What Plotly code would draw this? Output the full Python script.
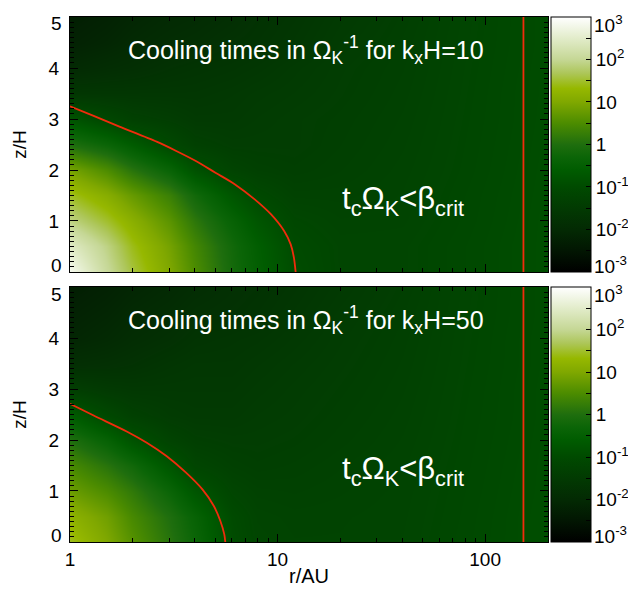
import plotly.graph_objects as go

# ---- data (log10 of cooling time in units of 1/Omega_K) ----
r_grid = [1, 1.5, 2, 3, 4, 6, 8, 12, 20, 40, 80, 150, 200]
z_grid = [0, 0.5, 1, 1.5, 2, 2.5, 3, 3.5, 4, 4.5, 5]

# rows: z_grid, cols: r_grid   (kxH = 10)
logtc_k10 = [
    [2.85, 2.05, 1.58, 1.00, 0.50, -0.15, -0.50, -0.95, -1.15, -1.15, -1.05, -0.95, -0.90],
    [2.45, 1.90, 1.42, 0.90, 0.40, -0.20, -0.55, -1.00, -1.15, -1.15, -1.05, -0.95, -0.90],
    [1.90, 1.50, 1.15, 0.65, 0.15, -0.40, -0.75, -1.10, -1.20, -1.18, -1.07, -0.96, -0.90],
    [1.45, 1.10, 0.75, 0.30, -0.20, -0.75, -1.05, -1.25, -1.25, -1.20, -1.08, -0.97, -0.91],
    [0.90, 0.50, 0.10, -0.35, -0.85, -1.20, -1.30, -1.35, -1.30, -1.22, -1.10, -0.98, -0.92],
    [0.00, -0.30, -0.60, -1.05, -1.30, -1.40, -1.40, -1.40, -1.33, -1.24, -1.11, -0.99, -0.93],
    [-0.80, -1.10, -1.30, -1.40, -1.50, -1.50, -1.45, -1.40, -1.35, -1.26, -1.12, -1.00, -0.94],
    [-1.60, -1.60, -1.60, -1.60, -1.60, -1.55, -1.50, -1.45, -1.38, -1.28, -1.13, -1.00, -0.95],
    [-2.00, -1.90, -1.85, -1.75, -1.70, -1.65, -1.60, -1.50, -1.40, -1.30, -1.14, -1.01, -0.95],
    [-2.20, -2.10, -2.00, -1.90, -1.85, -1.75, -1.70, -1.60, -1.45, -1.32, -1.15, -1.02, -0.96],
    [-2.30, -2.20, -2.10, -2.00, -1.95, -1.85, -1.75, -1.65, -1.50, -1.35, -1.16, -1.02, -0.96],
]

# rows: z_grid, cols: r_grid   (kxH = 50)
logtc_k50 = [
    [1.45, 1.00, 0.60, 0.10, -0.30, -0.95, -1.15, -1.20, -1.20, -1.17, -1.06, -0.96, -0.91],
    [1.20, 0.85, 0.45, 0.00, -0.40, -1.00, -1.18, -1.22, -1.21, -1.18, -1.07, -0.96, -0.91],
    [0.80, 0.50, 0.20, -0.30, -0.75, -1.15, -1.25, -1.27, -1.24, -1.19, -1.08, -0.97, -0.92],
    [0.45, 0.10, -0.20, -0.75, -1.15, -1.30, -1.35, -1.32, -1.27, -1.21, -1.09, -0.98, -0.92],
    [0.00, -0.40, -0.80, -1.20, -1.35, -1.40, -1.40, -1.37, -1.31, -1.23, -1.10, -0.99, -0.93],
    [-0.60, -1.05, -1.30, -1.45, -1.50, -1.50, -1.45, -1.41, -1.34, -1.25, -1.11, -1.00, -0.94],
    [-1.35, -1.50, -1.55, -1.55, -1.55, -1.55, -1.50, -1.44, -1.37, -1.27, -1.12, -1.00, -0.94],
    [-1.85, -1.80, -1.75, -1.65, -1.60, -1.60, -1.55, -1.48, -1.40, -1.29, -1.13, -1.01, -0.95],
    [-2.10, -2.00, -1.90, -1.80, -1.70, -1.65, -1.62, -1.54, -1.43, -1.31, -1.14, -1.01, -0.95],
    [-2.20, -2.10, -2.00, -1.90, -1.80, -1.75, -1.70, -1.60, -1.47, -1.33, -1.15, -1.02, -0.96],
    [-2.30, -2.20, -2.10, -2.00, -1.90, -1.80, -1.75, -1.65, -1.52, -1.36, -1.16, -1.02, -0.96],
]

# red contour t_c*Omega_K = beta_crit
contour10_r = [1.0, 1.3, 1.73, 2.614, 3.25, 4.04, 5.02, 6.24, 7.76, 9.31, 10.76, 11.57, 11.99, 12.22]
contour10_z = [3.25, 3.06, 2.85, 2.555, 2.373, 2.176, 1.947, 1.718, 1.424, 1.129, 0.804, 0.541, 0.28, 0.0]
contour50_r = [1.0, 1.3, 1.886, 2.344, 2.915, 3.623, 4.345, 4.931, 5.302, 5.538, 5.60]
contour50_z = [2.71, 2.48, 2.163, 1.947, 1.686, 1.359, 1.031, 0.706, 0.412, 0.149, 0.0]
r_outer = 153

cb_tickvals = [-3, -2, -1, 0, 1, 2, 3]
cb_ticktext = ["10<sup>-3</sup>", "10<sup>-2</sup>", "10<sup>-1</sup>", "1", "10", "10<sup>2</sup>", "10<sup>3</sup>"]
y_tickvals = [0, 1, 2, 3, 4, 5]
y_ticktext = ["0", "1", "2", "3", "4", "5"]
kx_values = ["10", "50"]

colorscale = [
    [0.000, "#000000"],
    [0.083, "#021602"],
    [0.167, "#032a03"],
    [0.250, "#023a02"],
    [0.333, "#004a00"],
    [0.400, "#005c00"],
    [0.450, "#0b6507"],
    [0.500, "#1f6e0e"],
    [0.583, "#4c8c00"],
    [0.667, "#80a800"],
    [0.720, "#96b800"],
    [0.780, "#adc65a"],
    [0.833, "#c5d795"],
    [0.917, "#e2ecca"],
    [1.000, "#ffffff"],
]

FONT = "Liberation Sans, Arial, Helvetica, sans-serif"
RED = "#f02c0c"
TICKSIZE = 19

fig = go.Figure()

top_dom = [0.5143, 1.0]
bot_dom = [0.0, 0.4857]

panels = [
    (logtc_k10, contour10_r, contour10_z, "x", "y", top_dom),
    (logtc_k50, contour50_r, contour50_z, "x2", "y2", bot_dom),
]

# colorbar ticks every half decade; end labels placed separately (shifted inward)
cb_all_vals = [v / 2 for v in range(-6, 7)]
cb_all_text = []
for v in cb_all_vals:
    if v in cb_tickvals and abs(v) < 3:
        cb_all_text.append(cb_ticktext[cb_tickvals.index(v)])
    else:
        cb_all_text.append("")

for data, cr, cz, xa, ya, dom in panels:
    fig.add_trace(go.Heatmap(
        x=r_grid, y=z_grid, z=data, xaxis=xa, yaxis=ya,
        zmin=-3, zmax=3, colorscale=colorscale, zsmooth="best",
        hoverinfo="skip",
        colorbar=dict(
            x=1.006, xanchor="left", xpad=0, thickness=40, thicknessmode="pixels",
            y=dom[0], yanchor="bottom", len=dom[1] - dom[0], lenmode="fraction", ypad=0,
            outlinecolor="black", outlinewidth=1,
            tickmode="array", tickvals=cb_all_vals, ticktext=cb_all_text,
            ticks="inside", ticklen=5, tickcolor="black", tickwidth=1,
            tickfont=dict(family=FONT, size=TICKSIZE, color="black"),
        ),
    ))
    fig.add_trace(go.Scatter(
        x=cr, y=cz, xaxis=xa, yaxis=ya, mode="lines",
        line=dict(color=RED, width=1.8, shape="spline", smoothing=0.8), hoverinfo="skip", showlegend=False,
    ))
    fig.add_trace(go.Scatter(
        x=[r_outer, r_outer], y=[0, 5], xaxis=xa, yaxis=ya, mode="lines",
        line=dict(color=RED, width=1.8), hoverinfo="skip", showlegend=False,
    ))

minor_x = [2, 3, 4, 5, 6, 7, 8, 9, 20, 30, 40, 50, 60, 70, 80, 90, 200]
xcommon = dict(
    type="log", range=[0, 2.303], showgrid=False, zeroline=False,
    showline=True, linecolor="black", linewidth=1, mirror="allticks",
    ticks="inside", ticklen=8, tickcolor="black", tickwidth=1,
    tickmode="array", tickvals=[1, 10, 100], ticktext=["1", "10", "100"],
    minor=dict(ticks="inside", ticklen=4, tickcolor="black", tickmode="array", tickvals=minor_x, showgrid=False),
    tickfont=dict(family=FONT, size=TICKSIZE, color="black"),
    ticklabelstandoff=0,
)
ycommon = dict(
    range=[0, 5], showgrid=False, zeroline=False,
    showline=True, linecolor="black", linewidth=1, mirror="allticks",
    ticks="inside", ticklen=8, tickcolor="black", tickwidth=1,
    tickmode="array", tickvals=y_tickvals, ticktext=["", "1", "2", "3", "4", ""],
    minor=dict(ticks="inside", ticklen=4, tickcolor="black", dtick=0.1, tick0=0, showgrid=False),
    tickfont=dict(family=FONT, size=TICKSIZE, color="black"),
    ticklabelstandoff=6,
    title=dict(text="z/H", font=dict(family=FONT, size=TICKSIZE, color="black"), standoff=16),
)

fig.update_layout(
    width=636, height=591,
    margin=dict(l=62, r=87, t=9, b=57),
    paper_bgcolor="white", plot_bgcolor="white",
    showlegend=False,
    font=dict(family=FONT, size=TICKSIZE, color="black"),
    xaxis=dict(xcommon, domain=[0, 1], anchor="y", showticklabels=False),
    yaxis=dict(ycommon, domain=top_dom, anchor="x"),
    xaxis2=dict(xcommon, domain=[0, 1], anchor="y2",
                title=dict(text="r/AU", font=dict(family=FONT, size=TICKSIZE + 1, color="black"), standoff=0)),
    yaxis2=dict(ycommon, domain=bot_dom, anchor="x2"),
)

# pixel helper for end labels (plot area: 9..534 px vertically)
def paper_y(py):
    return (534.0 - py) / 525.0

# end labels of y axes and colorbars, shifted inward like the original
end_labels = [
    # (y pixel, y-axis text, colorbar text)
    (16, y_ticktext[5], cb_ticktext[6]),
    (257, y_ticktext[0], cb_ticktext[0]),
    (286, y_ticktext[5], cb_ticktext[6]),
    (527, y_ticktext[0], cb_ticktext[0]),
]
for py, ytxt, cbtxt in end_labels:
    fig.add_annotation(x=0, y=paper_y(py), xref="paper", yref="paper", text=ytxt,
                       showarrow=False, xanchor="right", yanchor="middle", xshift=-6,
                       font=dict(family=FONT, size=TICKSIZE, color="black"))
    fig.add_annotation(x=(592 - 62) / 487, y=paper_y(py), xref="paper", yref="paper", text=cbtxt,
                       showarrow=False, xanchor="left", yanchor="middle", xshift=2,
                       font=dict(family=FONT, size=TICKSIZE, color="black"))

for (xr, yr), kx in zip([("x", "y"), ("x2", "y2")], kx_values):
    fig.add_annotation(
        x=1.136, y=4.36, xref=xr, yref=yr, showarrow=False,
        text="Cooling times in Ω<sub>K</sub><sup>-1</sup> for k<sub>x</sub>H=" + kx,
        font=dict(family=FONT, size=25, color="white"), xanchor="center", yanchor="middle",
    )
    fig.add_annotation(
        x=1.604, y=1.4, xref=xr, yref=yr, showarrow=False,
        text="t<sub>c</sub>Ω<sub>K</sub><β<sub>crit</sub>",
        font=dict(family=FONT, size=31, color="white"), xanchor="center", yanchor="middle",
    )

fig.write_html("out.html")
